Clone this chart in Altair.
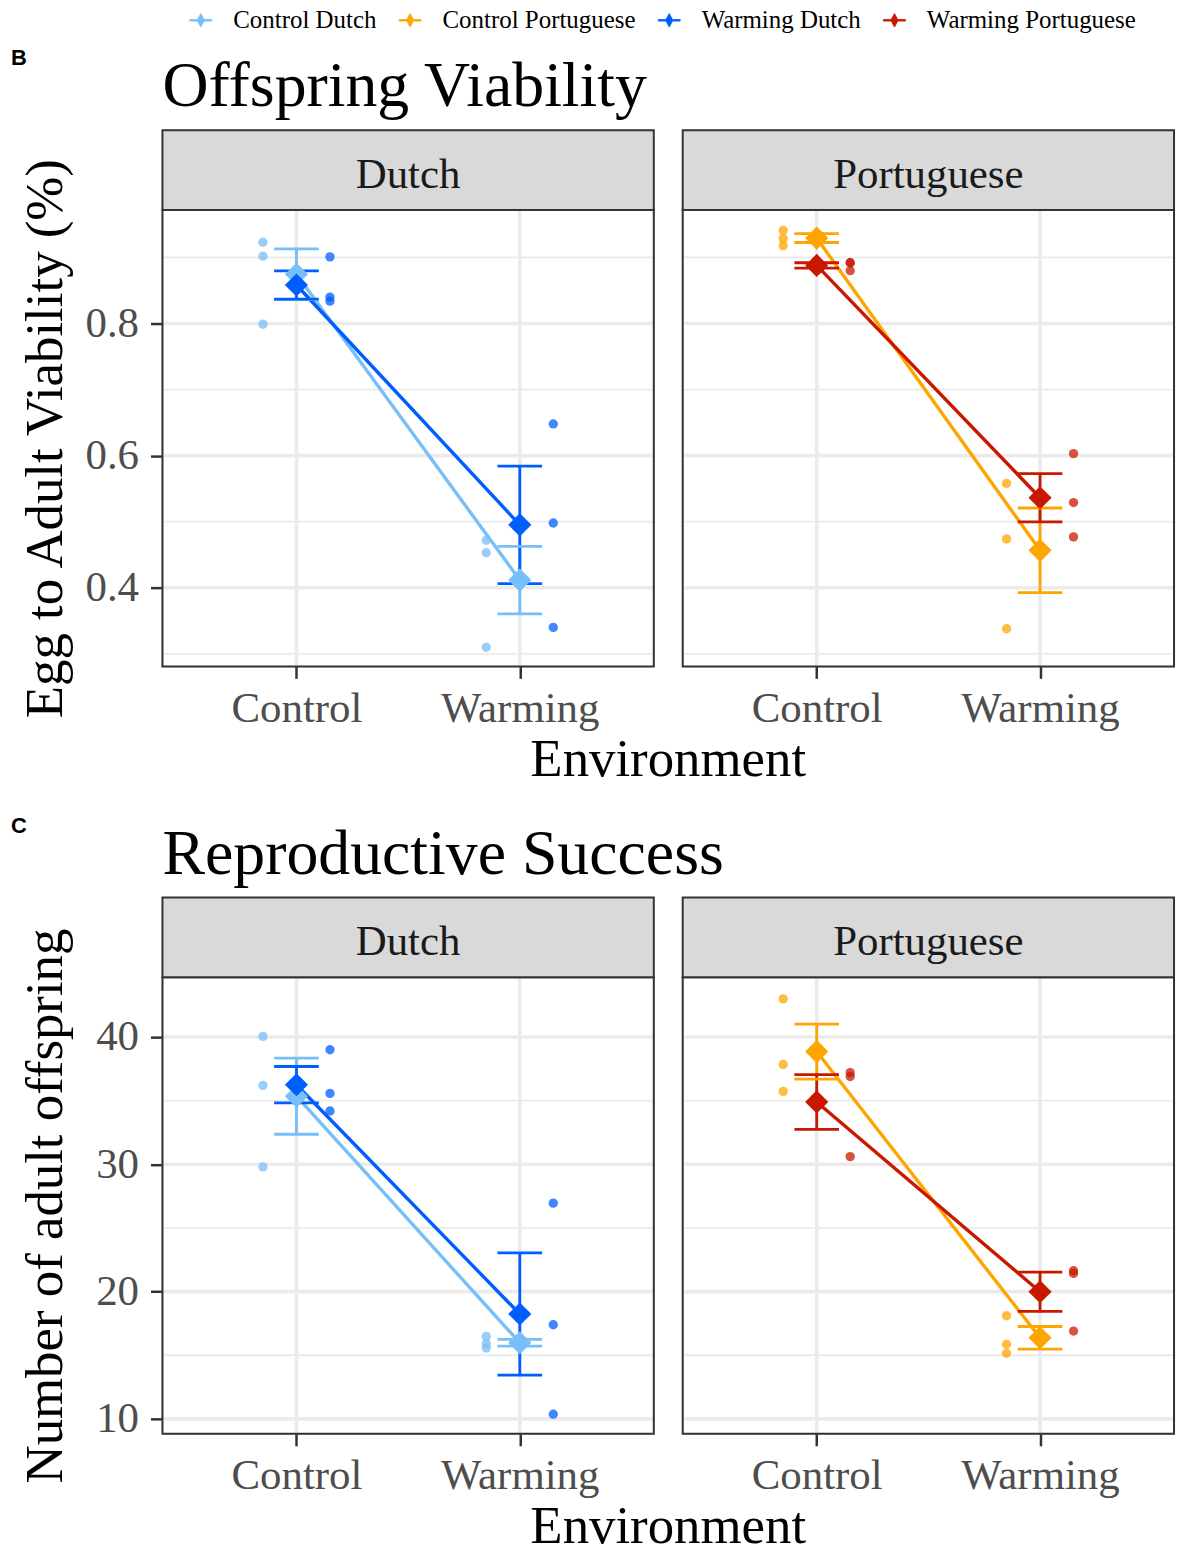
import altair as alt
import pandas as pd

# Treatment groups (evolution regime + population) and their colours
GROUPS = ["Control Dutch", "Control Portuguese", "Warming Dutch", "Warming Portuguese"]
GROUP_COLORS = ["#78BEF8", "#FFA500", "#005EFF", "#C81900"]
POPULATIONS = ["Dutch", "Portuguese"]
ENVIRONMENTS = ["Control", "Warming"]

# Egg-to-adult viability of each replicate line: (Control environment, Warming environment)
viability_control_dutch = ([0.923, 0.902, 0.799], [0.472, 0.453, 0.310])
viability_warming_dutch = ([0.901, 0.840, 0.834], [0.648, 0.498, 0.340])
viability_control_portuguese = ([0.941, 0.929, 0.918], [0.558, 0.474, 0.338])
viability_warming_portuguese = ([0.892, 0.892, 0.880], [0.603, 0.529, 0.477])

# Number of adult offspring of each replicate line: (Control environment, Warming environment)
offspring_control_dutch = ([40.05, 36.2, 29.8], [16.48, 15.9, 15.57])
offspring_warming_dutch = ([39.0, 35.57, 34.19], [26.95, 17.4, 10.37])
offspring_control_portuguese = ([43.0, 37.84, 35.73], [18.1, 15.86, 15.16])
offspring_warming_portuguese = ([37.2, 36.9, 30.6], [21.64, 21.43, 16.9])

# Axis ticks, minor grid lines and ranges
VIAB_TICKS = [0.4, 0.6, 0.8]
VIAB_MINOR = [0.3, 0.5, 0.7, 0.9]
VIAB_DOMAIN = [0.281, 0.972]
OFFS_TICKS = [10, 20, 30, 40]
OFFS_MINOR = [15, 25, 35]
OFFS_DOMAIN = [8.83, 44.69]

TAGS = ["B", "C"]
TITLES = ["Offspring Viability", "Reproductive Success"]
Y_TITLES = ["Egg to Adult Viability (%)", "Number of adult offspring"]
Y_FORMATS = [".1f", "d"]
X_TITLE = "Environment"

SERIF = "Liberation Serif"
SANS = "Liberation Sans"
W, H = 493, 458
GAP_X, GAP_Y = 29, 312
DODGE = 0.15   # horizontal offset of replicate dots (x units)
CAP = 0.1      # half width of error-bar caps (x units)


def long_table(series):
    rows = []
    for group, per_env in series.items():
        regime, population = group.split(" ")
        for env_idx, (env, values) in enumerate(zip(ENVIRONMENTS, per_env), start=1):
            for v in values:
                rows.append(dict(group=group, regime=regime, population=population,
                                 environment=env, env_idx=env_idx, value=v))
    return pd.DataFrame(rows)


viability = long_table({
    "Control Dutch": viability_control_dutch,
    "Warming Dutch": viability_warming_dutch,
    "Control Portuguese": viability_control_portuguese,
    "Warming Portuguese": viability_warming_portuguese,
})
offspring = long_table({
    "Control Dutch": offspring_control_dutch,
    "Warming Dutch": offspring_warming_dutch,
    "Control Portuguese": offspring_control_portuguese,
    "Warming Portuguese": offspring_warming_portuguese,
})

color_scale = alt.Scale(domain=GROUPS, range=GROUP_COLORS)
x_scale = alt.Scale(domain=[0.4, 2.6], nice=False, zero=False)
env_label_expr = " : ".join(
    [f"datum.value == {i} ? '{e}'" for i, e in enumerate(ENVIRONMENTS[:-1], start=1)]
    + [f"'{ENVIRONMENTS[-1]}'"]
)
x_axis = alt.Axis(values=[1, 2], labelExpr=env_label_expr, title=None, grid=False,
                  domain=False, ticks=True, tickSize=12, tickWidth=2.5, tickColor="#333333",
                  labelFont=SERIF, labelFontSize=43, labelColor="#4D4D4D",
                  labelBaseline="alphabetic", labelPadding=43, labelFlush=False)

# legend key: a short line with a diamond on it (filled outline)
LEGEND_SYMBOL = ("M-1,-0.07H-0.3L0,-0.62L0.3,-0.07H1V0.07H0.3L0,0.62L-0.3,0.07H-1Z")
group_legend = alt.Legend(
    title=None, orient="none", legendX=26, legendY=-203, direction="horizontal",
    symbolType=LEGEND_SYMBOL, symbolSize=484, symbolStrokeWidth=0.8, symbolOpacity=1,
    labelFont=SERIF, labelFontSize=25, labelColor="black", labelLimit=600,
    labelOffset=20, columnPadding=20, padding=0,
)


def text_layer(text, x, y, size, font=SERIF, weight="normal", align="left", color="black"):
    return alt.Chart(pd.DataFrame({"t": [text]})).mark_text(
        align=align, baseline="alphabetic", font=font, fontSize=size,
        fontWeight=weight, color=color
    ).encode(x=alt.value(x), y=alt.value(y), text="t:N")


def panel(df, population, domain, ticks, minor, left, row):
    d = df[df.population == population]
    y_scale = alt.Scale(domain=domain, nice=False, zero=False)

    # y encodings: the left panel carries the axis on the dot layer only,
    # the right panel switches it off on every layer
    def Y(field, axis_here=False):
        if left:
            if axis_here:
                return alt.Y(field, scale=y_scale, axis=alt.Axis(
                    values=ticks, format=Y_FORMATS[row], title=Y_TITLES[row],
                    grid=False, domain=False,
                    tickSize=12, tickWidth=2.5, tickColor="#333333",
                    labelFont=SERIF, labelFontSize=43, labelColor="#4D4D4D",
                    labelPadding=12, titleFont=SERIF, titleFontSize=53,
                    titleFontWeight="normal", titleColor="black",
                    titleX=-101, titleY=H / 2, titleAngle=270,
                    titleBaseline="alphabetic", titleAlign="center"))
            return alt.Y(field, scale=y_scale)
        return alt.Y(field, scale=y_scale, axis=None)

    # one layer defines the shared legend; the others leave it implicit
    def C(with_legend=False):
        if with_legend:
            return alt.Color("group:N", scale=color_scale, legend=group_legend)
        return alt.Color("group:N", scale=color_scale)

    one = pd.DataFrame({"k": [0]})
    grid_minor = alt.Chart(pd.DataFrame({"g": minor})).mark_rule(
        color="#EBEBEB", strokeWidth=1.8).encode(y=Y("g:Q"))
    grid_major = alt.Chart(pd.DataFrame({"g": ticks})).mark_rule(
        color="#EBEBEB", strokeWidth=3.6).encode(y=Y("g:Q"))
    grid_vert = alt.Chart(pd.DataFrame({"g": [1, 2]})).mark_rule(
        color="#EBEBEB", strokeWidth=3.6).encode(x=alt.X("g:Q", scale=x_scale))

    dots = alt.Chart(d).transform_calculate(
        xpos=f"datum.env_idx + (datum.regime == 'Control' ? {-DODGE} : {DODGE})"
    ).mark_circle(size=88, opacity=0.75).encode(
        x=alt.X("xpos:Q", scale=x_scale, axis=x_axis),
        y=Y("value:Q", axis_here=True),
        color=C(with_legend=(left and row == 0)),
    )

    summary = alt.Chart(d).transform_aggregate(
        mean="mean(value)", se="stderr(value)", groupby=["group", "env_idx"]
    ).transform_calculate(
        lo="datum.mean - datum.se", hi="datum.mean + datum.se",
        cap0=f"datum.env_idx - {CAP}", cap1=f"datum.env_idx + {CAP}",
    )
    lines = summary.mark_line(strokeWidth=3.4).encode(
        x=alt.X("env_idx:Q", scale=x_scale), y=Y("mean:Q"), color=C())
    err = summary.mark_rule(strokeWidth=2.8).encode(
        x=alt.X("env_idx:Q", scale=x_scale), y=Y("lo:Q"), y2="hi:Q", color=C())
    cap_lo = summary.mark_rule(strokeWidth=2.8).encode(
        x=alt.X("cap0:Q", scale=x_scale), x2="cap1:Q", y=Y("lo:Q"), color=C())
    cap_hi = summary.mark_rule(strokeWidth=2.8).encode(
        x=alt.X("cap0:Q", scale=x_scale), x2="cap1:Q", y=Y("hi:Q"), color=C())
    diamonds = summary.mark_point(shape="diamond", filled=True, size=540, opacity=1).encode(
        x=alt.X("env_idx:Q", scale=x_scale), y=Y("mean:Q"), color=C())

    border = alt.Chart(one).mark_rect(fillOpacity=0, stroke="#333333", strokeWidth=2).encode(
        x=alt.value(0), x2=alt.value(W), y=alt.value(0), y2=alt.value(H))
    strip = alt.Chart(one).mark_rect(fill="#D9D9D9", stroke="#333333", strokeWidth=2).encode(
        x=alt.value(0), x2=alt.value(W), y=alt.value(-80), y2=alt.value(0))
    strip_text = text_layer(population, W / 2, -22, 43, align="center", color="#1A1A1A")

    layers = [grid_minor, grid_major, grid_vert, dots, lines, err, cap_lo, cap_hi,
              diamonds, border, strip, strip_text]
    if left:
        layers += [
            text_layer(TITLES[row], 0, -104, 64),
            text_layer(TAGS[row], -152, -145, 22, font=SANS, weight="bold"),
            text_layer(X_TITLE, W + GAP_X / 2, H + 110, 53, align="center"),
        ]
    return alt.layer(*layers).properties(width=W, height=H)


panels = []
for row, (df, dom, ticks, minor) in enumerate([
    (viability, VIAB_DOMAIN, VIAB_TICKS, VIAB_MINOR),
    (offspring, OFFS_DOMAIN, OFFS_TICKS, OFFS_MINOR),
]):
    for j, pop in enumerate(POPULATIONS):
        panels.append(panel(df, pop, dom, ticks, minor, j == 0, row))

chart = alt.concat(
    *panels, columns=2, spacing={"row": GAP_Y, "column": GAP_X}, bounds="flush",
    padding={"left": 10, "top": 5, "right": 7, "bottom": 0},
).resolve_scale(
    x="independent", y="independent", color="shared"
).configure_view(stroke="transparent").configure(background="white")

chart.save("out.html", embed_options={"renderer": "svg", "actions": False})
